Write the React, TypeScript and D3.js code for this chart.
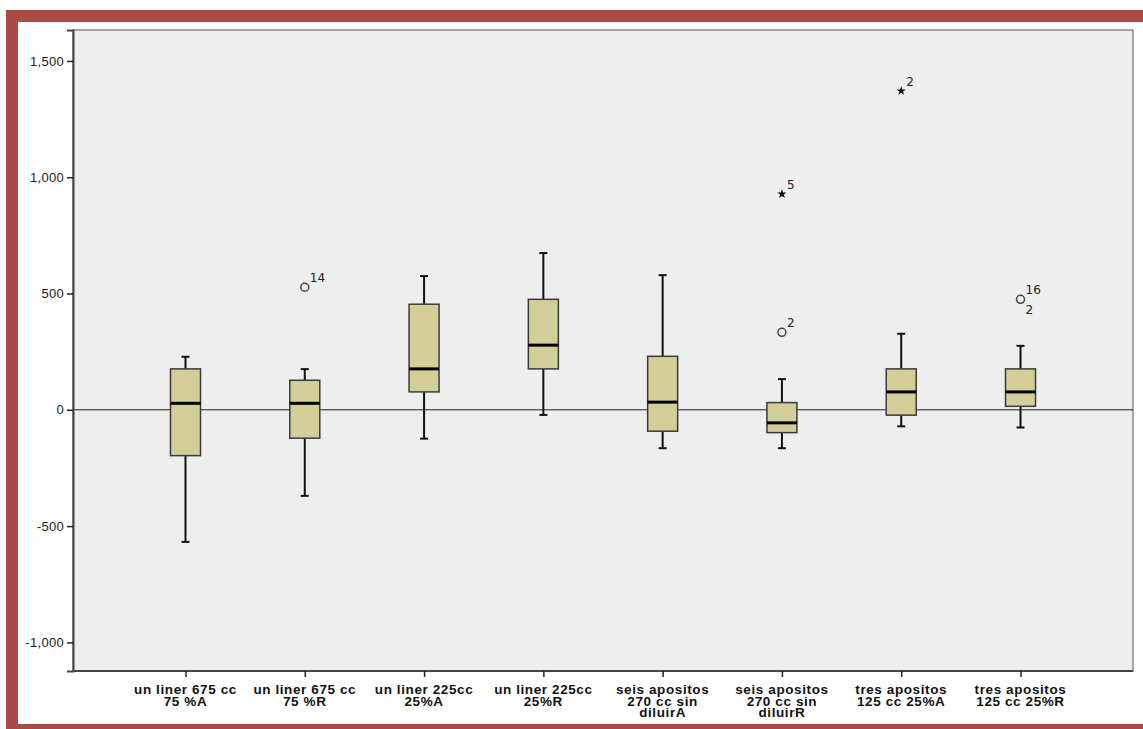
import * as d3 from "d3";
import { useEffect, useRef } from "react";

// groups (x axis labels, one entry per line)
const categories = [
  ["un liner 675 cc", "75 %A"],
  ["un liner 675 cc", "75 %R"],
  ["un liner 225cc", "25%A"],
  ["un liner 225cc", "25%R"],
  ["seis apositos", "270 cc sin", "diluirA"],
  ["seis apositos", "270 cc sin", "diluirR"],
  ["tres apositos", "125 cc 25%A"],
  ["tres apositos", "125 cc 25%R"],
];

// five-number summaries
const whiskerLow = [-568, -370, -124, -22, -165, -165, -71, -76];
const q1 = [-197, -122, 77, 176, -92, -98, -23, 15];
const median = [28, 28, 176, 278, 33, -56, 77, 77];
const q3 = [176, 127, 454, 475, 230, 31, 176, 176];
const whiskerHigh = [228, 175, 575, 674, 579, 132, 327, 275];

// outliers: group index, value, case labels, marker kind
const outlierGroup = [1, 5, 5, 6, 7];
const outlierValue = [527, 333, 928, 1371, 475];
const outlierIds = [["14"], ["2"], ["5"], ["2"], ["16", "2"]];
const outlierKind = ["circle", "circle", "star", "star", "circle"];

const yTicks = [-1000, -500, 0, 500, 1000, 1500];

export default function App() {
  const svgRef = useRef<SVGSVGElement>(null);

  useEffect(() => {
    const width = 1143;
    const height = 729;
    const svg = d3.select(svgRef.current).attr("width", width).attr("height", height);
    svg.selectAll("*").remove();

    const left = 73, right = 1133, top = 30, bottom = 671;

    // frame
    svg.append("rect").attr("width", width).attr("height", height).attr("fill", "#fff");
    const red = "#a84a45";
    svg.append("rect").attr("x", 6).attr("y", 10).attr("width", width - 6).attr("height", 12).attr("fill", red);
    svg.append("rect").attr("x", 6).attr("y", 10).attr("width", 12).attr("height", height - 10).attr("fill", red);
    svg.append("rect").attr("x", 6).attr("y", 724).attr("width", width - 6).attr("height", 5).attr("fill", red);

    const x = d3.scalePoint<number>()
      .domain(d3.range(categories.length))
      .range([left, right])
      .padding(0.943);

    const y = d3.scaleLinear().domain([-1123, 1633]).range([bottom, top]);

    // plot background
    svg.append("rect")
      .attr("x", left).attr("y", top)
      .attr("width", right - left).attr("height", bottom - top)
      .attr("fill", "#eeeeee")
      .attr("stroke", "#555").attr("stroke-width", 1);

    // reference line at 0
    svg.append("line")
      .attr("x1", left).attr("x2", right)
      .attr("y1", y(0)).attr("y2", y(0))
      .attr("stroke", "#222").attr("stroke-width", 1);

    const fmt = d3.formatLocale({
      decimal: ".", thousands: ",", grouping: [3], currency: ["$", ""], minus: "-",
    }).format(",");

    // y axis
    const yAxis = svg.append("g").attr("transform", `translate(${left},0)`)
      .call(d3.axisLeft(y).tickValues(yTicks).tickSize(6).tickPadding(3).tickFormat((d) => fmt(d as number)));
    yAxis.select(".domain").attr("stroke", "#444").attr("stroke-width", 2);
    yAxis.selectAll(".tick line").attr("stroke", "#222").attr("stroke-width", 1.5);
    yAxis.selectAll(".tick text")
      .attr("fill", "#222").attr("font-size", 13).attr("letter-spacing", 0.3)
      .attr("font-family", "Liberation Sans, Arial, sans-serif");

    // x axis
    const xAxis = svg.append("g").attr("transform", `translate(0,${bottom})`)
      .call(d3.axisBottom(x).tickSize(6).tickFormat(() => ""));
    xAxis.select(".domain").attr("stroke", "#444").attr("stroke-width", 2).attr("d", `M${left},0H${right}`);
    xAxis.selectAll(".tick line").attr("stroke", "#222").attr("stroke-width", 1.5);

    svg.append("g").selectAll("text")
      .data(categories)
      .join("text")
      .attr("x", (_, i) => x(i)!)
      .attr("y", 694)
      .attr("text-anchor", "middle")
      .attr("font-family", "Liberation Sans, Arial, sans-serif")
      .attr("font-weight", "bold")
      .attr("font-size", 13.5)
      .attr("letter-spacing", 0.6)
      .attr("fill", "#111")
      .each(function (lines) {
        d3.select(this).selectAll("tspan")
          .data(lines)
          .join("tspan")
          .attr("x", d3.select(this).attr("x"))
          .attr("dy", (_, j) => (j === 0 ? 0 : 11.5))
          .text((d) => d);
      });

    // boxes
    const boxW = 30, capW = 8;
    const g = svg.append("g");
    categories.forEach((_, i) => {
      const cx = x(i)!;
      g.append("line")
        .attr("x1", cx).attr("x2", cx)
        .attr("y1", y(whiskerLow[i])).attr("y2", y(q1[i]))
        .attr("stroke", "#111").attr("stroke-width", 2);
      g.append("line")
        .attr("x1", cx).attr("x2", cx)
        .attr("y1", y(q3[i])).attr("y2", y(whiskerHigh[i]))
        .attr("stroke", "#111").attr("stroke-width", 2);
      [whiskerLow[i], whiskerHigh[i]].forEach((v) => {
        g.append("line")
          .attr("x1", cx - capW / 2).attr("x2", cx + capW / 2)
          .attr("y1", y(v)).attr("y2", y(v))
          .attr("stroke", "#111").attr("stroke-width", 2);
      });
      g.append("rect")
        .attr("x", cx - boxW / 2).attr("y", y(q3[i]))
        .attr("width", boxW).attr("height", y(q1[i]) - y(q3[i]))
        .attr("fill", "#d3ce97")
        .attr("stroke", "#3a3a3a").attr("stroke-width", 1.5);
      g.append("line")
        .attr("x1", cx - boxW / 2).attr("x2", cx + boxW / 2)
        .attr("y1", y(median[i])).attr("y2", y(median[i]))
        .attr("stroke", "#000").attr("stroke-width", 3);
    });

    // outliers
    const og = svg.append("g");
    outlierValue.forEach((v, k) => {
      const cx = x(outlierGroup[k])!;
      const cy = y(v);
      if (outlierKind[k] === "circle") {
        og.append("circle")
          .attr("cx", cx).attr("cy", cy).attr("r", 4)
          .attr("fill", "none").attr("stroke", "#444").attr("stroke-width", 1.5);
      } else {
        og.append("path")
          .attr("d", d3.symbol(d3.symbolStar, 28)())
          .attr("transform", `translate(${cx},${cy})`)
          .attr("fill", "#111");
      }
      outlierIds[k].forEach((id, j) => {
        og.append("text")
          .attr("x", cx + 5)
          .attr("y", j === 0 ? cy - 5 : cy + 15)
          .attr("font-family", "DejaVu Sans, sans-serif")
          .attr("font-size", 12)
          .attr("fill", "#222")
          .text(id);
      });
    });
  }, []);

  return <svg ref={svgRef} style={{ position: "absolute", left: 0, top: 0 }}></svg>;
}
